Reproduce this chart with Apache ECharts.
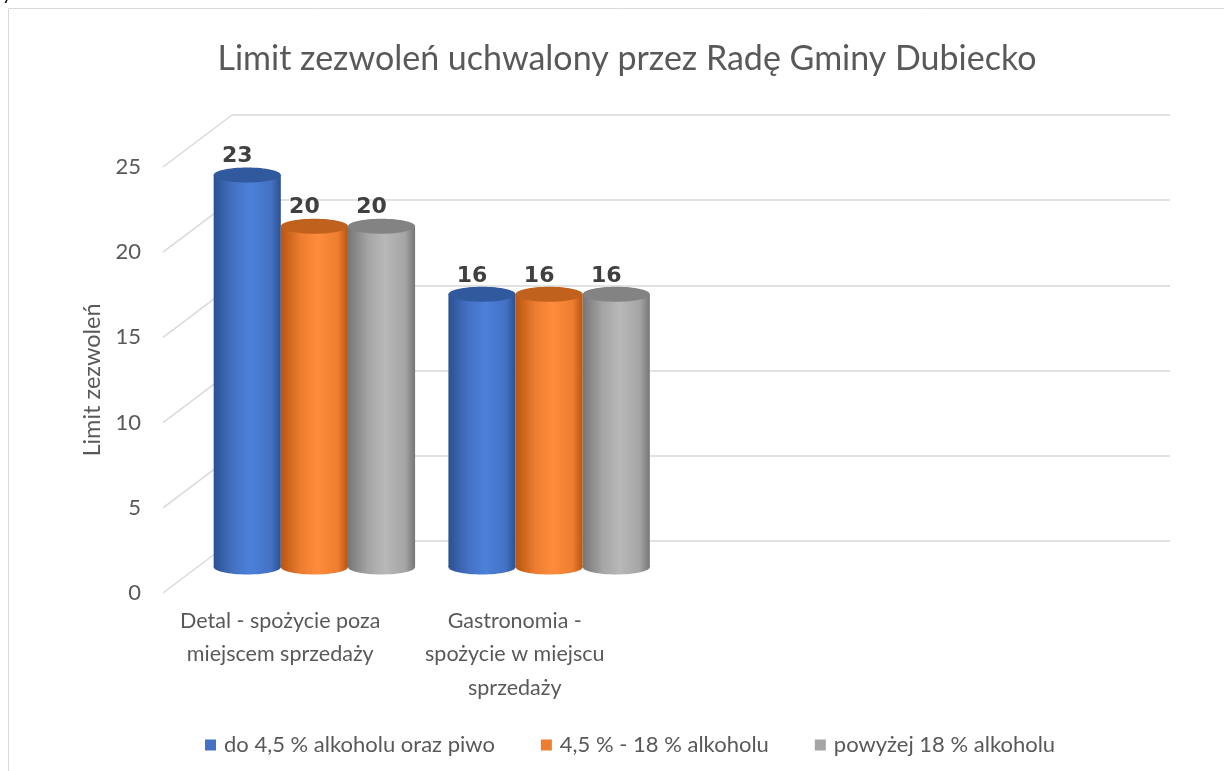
<!DOCTYPE html>
<html>
<head>
<meta charset="utf-8">
<script src="https://cdn.jsdelivr.net/npm/echarts@6/dist/echarts.min.js"></script>
<style>
  html, body { margin: 0; padding: 0; background: #fff; }
  #chart { width: 1224px; height: 771px; }
</style>
</head>
<body>
<div id="chart"></div>
<script>
const categories = ['Detal - spożycie poza\nmiejscem sprzedaży', 'Gastronomia -\nspożycie w miejscu\nsprzedaży', '', '']
const seriesNames = ['do 4,5 % alkoholu oraz piwo', '4,5 % - 18 % alkoholu', 'powyżej 18 % alkoholu']
const beerValues = [23, 16]
const mediumValues = [20, 16]
const strongValues = [20, 16]
const yTicks = [0, 5, 10, 15, 20, 25]

const FONT = 'Lato, "Open Sans", sans-serif'
const TEXT = '#595959'
// depth of the fake 3d floor (front plane -> back wall)
const DX = 69, DY = 52

const palettes = [
  { base: '#4472C4', edge: '#2C5192', light: '#4C80D9', top: '#30599E' },
  { base: '#ED7D31', edge: '#B9560F', light: '#FF8C3C', top: '#C0611E' },
  { base: '#A5A5A5', edge: '#767676', light: '#B8B8B8', top: '#838383' }
]

function cylinder(s) {
  return function (params, api) {
    const cat = api.value(0), val = api.value(1)
    const w = api.size([1, 0])[0] * 0.286
    const top = api.coord([cat, val])
    const base = api.coord([cat, 0])
    const cx = top[0] + (s - 1) * w
    const rx = w / 2, ry = 7.5
    const p = palettes[s]
    const grad = new echarts.graphic.LinearGradient(0, 0, 1, 0, [
      { offset: 0, color: p.edge },
      { offset: 0.3, color: p.base },
      { offset: 0.55, color: p.light },
      { offset: 0.85, color: p.base },
      { offset: 1, color: p.edge }
    ])
    return {
      type: 'group',
      children: [
        { type: 'ellipse', shape: { cx: cx, cy: base[1], rx: rx, ry: ry }, style: { fill: grad } },
        { type: 'rect', shape: { x: cx - rx, y: top[1], width: w, height: base[1] - top[1] }, style: { fill: grad } },
        { type: 'ellipse', shape: { cx: cx, cy: top[1], rx: rx, ry: ry }, style: { fill: p.top } },
        {
          type: 'text',
          style: {
            text: String(val), x: cx - 10, y: top[1] - ry,
            align: 'center', verticalAlign: 'bottom',
            font: 'bold 22px "DejaVu Sans", sans-serif', fill: '#404040'
          }
        }
      ]
    }
  }
}

function toPoints(values) {
  return values.map((v, i) => [i, v])
}

const chart = echarts.init(document.getElementById('chart'))

chart.setOption({
  animation: false,
  title: {
    text: 'Limit zezwoleń uchwalony przez Radę Gminy Dubiecko',
    left: 622, top: 37, textAlign: 'center',
    textStyle: { fontFamily: FONT, fontSize: 34, fontWeight: 'normal', color: TEXT }
  },
  graphic: [
    { type: 'rect', shape: { x: 8.5, y: 8.5, width: 1400, height: 900 }, style: { fill: null, stroke: '#d9d9d9', lineWidth: 1 }, silent: true },
    { type: 'text', left: 2, top: -16, style: { text: 'ysane', font: '20px ' + FONT, fill: '#000' }, silent: true }
  ],
  legend: {
    data: seriesNames,
    left: 200, top: 729,
    icon: 'rect', itemWidth: 11, itemHeight: 11, itemGap: 46,
    textStyle: { fontFamily: FONT, fontSize: 22, color: TEXT, padding: [0, 0, 0, 3] }
  },
  grid: [
    { left: 197, right: 88, top: 141, bottom: 204 },   // bars (middle depth)
    { left: 163, right: 123, top: 167, bottom: 178 },  // front plane: labels
    { left: 232, right: 54, top: 115, bottom: 230 }    // back wall: gridlines
  ],
  xAxis: [
    { gridIndex: 0, type: 'category', data: categories, show: false },
    {
      gridIndex: 1, type: 'category', data: categories,
      axisLine: { show: false }, axisTick: { show: false },
      axisLabel: { interval: 0, color: TEXT, fontFamily: FONT, fontSize: 21.5, lineHeight: 33.5, margin: 11 }
    },
    { gridIndex: 2, type: 'category', data: categories, show: false }
  ],
  yAxis: [
    { gridIndex: 0, type: 'value', min: 0, max: 25, interval: 5, show: false },
    {
      gridIndex: 1, type: 'value', min: 0, max: 25, interval: 5,
      name: 'Limit zezwoleń', nameLocation: 'middle', nameGap: 57,
      nameTextStyle: { fontFamily: FONT, fontSize: 23.5, color: TEXT },
      axisLine: { show: false }, axisTick: { show: false }, splitLine: { show: false },
      axisLabel: { color: TEXT, fontFamily: FONT, fontSize: 22, margin: 22 }
    },
    {
      gridIndex: 2, type: 'value', min: 0, max: 25, interval: 5,
      axisLine: { show: false }, axisTick: { show: false }, axisLabel: { show: false },
      splitLine: { lineStyle: { color: '#d9d9d9', width: 1.5 } }
    }
  ],
  series: [
    ...[beerValues, mediumValues, strongValues].map((vals, s) => ({
      name: seriesNames[s],
      type: 'custom',
      xAxisIndex: 0, yAxisIndex: 0,
      itemStyle: { color: palettes[s].base },
      renderItem: cylinder(s),
      clip: false,
      z: 3,
      data: toPoints(vals)
    })),
    {
      // side-wall diagonals from the front plane to the back wall
      type: 'custom',
      xAxisIndex: 1, yAxisIndex: 1,
      silent: true, z: 1,
      renderItem: function (params, api) {
        const p = api.coord([0, api.value(1)])
        const x0 = params.coordSys.x
        return {
          type: 'line',
          shape: { x1: x0, y1: p[1], x2: x0 + DX, y2: p[1] - DY },
          style: { stroke: '#d9d9d9', lineWidth: 1.5 }
        }
      },
      data: yTicks.map(v => [0, v])
    }
  ]
})
</script>
</body>
</html>
